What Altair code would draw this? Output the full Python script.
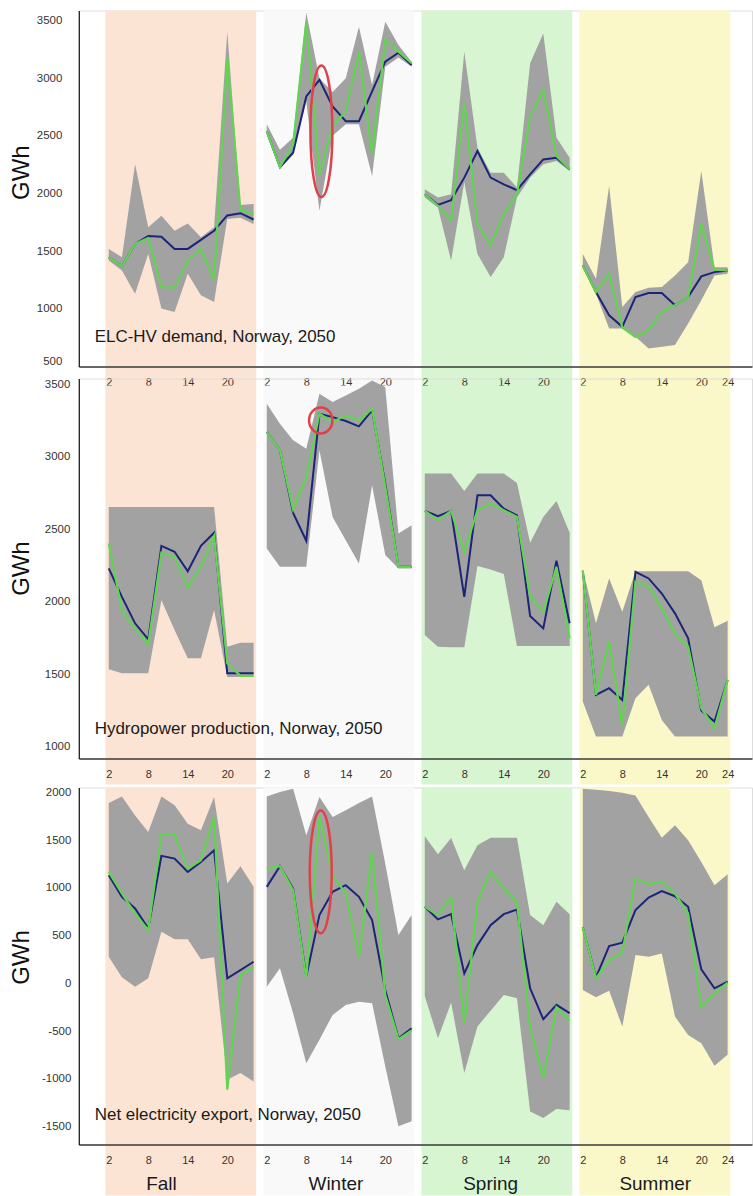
import altair as alt
import pandas as pd

# ---------------------------------------------------------------------------
# Data: hourly values (every 2 h) for four representative seasons.
# Each list holds 48 values: Fall, Winter, Spring, Summer (12 points each).
# ---------------------------------------------------------------------------
SEASONS = ["Fall", "Winter", "Spring", "Summer"]
HOURS = [2, 4, 6, 8, 10, 12, 14, 16, 18, 20, 22, 24]

# ELC-HV demand (GWh)
demand_navy = [1448, 1371, 1563, 1632, 1626, 1520, 1520, 1598, 1678, 1810, 1830, 1775,
               2540, 2230, 2354, 2842, 2986, 2756, 2627, 2627, 2885, 3144, 3221, 3115,
               1994, 1902, 1943, 2138, 2368, 2138, 2080, 2029, 2167, 2296, 2310, 2210,
               1376, 1146, 945, 845, 1103, 1138, 1138, 1031, 1103, 1282, 1319, 1333]
demand_green = [1448, 1371, 1563, 1615, 1190, 1184, 1419, 1520, 1253, 3173, 1856, 1822,
                2540, 2230, 2425, 3489, 2167, 2583, 2713, 3230, 2339, 3331, 3230, 3130,
                1994, 1894, 1764, 2785, 1736, 1549, 1822, 1994, 2670, 2900, 2325, 2210,
                1376, 1146, 1304, 839, 758, 816, 974, 1031, 1103, 1736, 1339, 1333]
demand_low = [1420, 1333, 1132, 1477, 1003, 974, 1305, 1118, 1060, 1780, 1790, 1736,
              2512, 2210, 2339, 2800, 1851, 2500, 2600, 2600, 2152, 3100, 3180, 3100,
              1966, 1879, 1419, 2100, 1477, 1276, 1448, 1966, 2138, 2253, 2282, 2195,
              1362, 1132, 830, 830, 758, 658, 672, 687, 874, 1075, 1290, 1304]
demand_high = [1520, 1448, 2253, 1707, 1807, 1678, 1741, 1621, 1707, 3402, 1900, 1910,
               2600, 2380, 2483, 3570, 3000, 2880, 3000, 3446, 2940, 3489, 3288, 3140,
               2037, 1966, 1994, 3230, 2397, 2181, 2181, 2052, 3130, 3388, 2483, 2310,
               1477, 1261, 2066, 1017, 1146, 1184, 1190, 1290, 1405, 2195, 1362, 1362]

# Hydropower production (GWh)
hydro_navy = [2230, 2034, 1851, 1740, 2386, 2345, 2211, 2386, 2476, 1506, 1506, 1506,
              3172, 3046, 2614, 2421, 3298, 3275, 3248, 3211, 3321, 2816, 2241, 2241,
              2627, 2591, 2627, 2034, 2735, 2735, 2643, 2597, 1901, 1816, 2283, 1851,
              2214, 1357, 1403, 1322, 2207, 2161, 2057, 1920, 1747, 1249, 1173, 1460]
hydro_green = [2402, 1943, 1816, 1708, 2338, 2310, 2099, 2241, 2453, 1575, 1488, 1488,
               3172, 3046, 2637, 2862, 3298, 3241, 3287, 3252, 3333, 2793, 2241, 2241,
               2627, 2563, 2627, 2345, 2632, 2678, 2632, 2586, 2034, 1931, 2241, 1747,
               2214, 1357, 1724, 1143, 2138, 2108, 1954, 1782, 1690, 1265, 1127, 1460]
hydro_low = [1534, 1506, 1506, 1506, 2011, 1805, 1609, 1609, 1943, 1480, 1480, 1480,
             2368, 2241, 2241, 2241, 3046, 2586, 2425, 2264, 2804, 2322, 2230, 2230,
             1770, 1690, 1685, 1685, 2246, 2223, 2191, 1694, 1694, 1694, 1694, 1694,
             1311, 1069, 1069, 1069, 1334, 1426, 1184, 1069, 1069, 1069, 1069, 1069]
hydro_high = [2655, 2655, 2655, 2655, 2655, 2655, 2655, 2655, 2655, 1690, 1717, 1717,
              3367, 3229, 3115, 3057, 3436, 3379, 3425, 3471, 3528, 3482, 2471, 2529,
              2885, 2885, 2885, 2765, 2885, 2885, 2885, 2820, 2407, 2586, 2696, 2476,
              2223, 1851, 2161, 1931, 2210, 2210, 2210, 2210, 2210, 2149, 1823, 1869]

# Net electricity export (GWh)
export_navy = [1132, 905, 783, 575, 1334, 1306, 1166, 1271, 1393, 52, 139, 226,
               1010, 1226, 992, 70, 714, 958, 1027, 905, 662, -70, -575, -470,
               801, 669, 724, 104, 400, 609, 724, 773, -52, -376, -226, -313,
               585, 63, 390, 425, 766, 898, 965, 912, 801, 146, -52, 17]
export_green = [1166, 940, 731, 557, 1560, 1560, 1201, 1288, 1741, -1114, 87, 167,
                1201, 1226, 975, 52, 1741, 1132, 940, 279, 1375, -122, -585, -494,
                801, 714, 898, -418, 853, 1166, 992, 853, -470, -992, -251, -390,
                585, 52, 244, 320, 1097, 1038, 1062, 940, 731, -251, -104, 7]
export_low = [279, 63, -35, 52, 540, 460, 460, 251, 272, -1010, -940, -1027,
              -35, 157, -313, -836, -592, -331, -226, -192, -209, -870, -1497, -1445,
              -132, -575, -202, -940, -453, -286, -122, -157, -1341, -1410, -1316, -1330,
              -70, -146, -77, -453, 296, 279, 313, -348, -540, -627, -864, -749]
export_high = [1887, 1957, 1758, 1584, 1957, 1863, 1671, 1602, 1950, 1045, 1226, 1010,
               1957, 2002, 2037, 1549, 1950, 1741, 1811, 1887, 1957, 1253, 505, 714,
               1539, 1351, 1522, 1184, 1445, 1525, 1525, 1525, 714, 609, 853, 724,
               2037, 2027, 2013, 1995, 1967, 1741, 1525, 1654, 1497, 1271, 1027, 1142]

# Highlighted Winter hours (hour, value) in each panel
highlight_demand = (10.3, 2540)
highlight_hydro = (10.2, 3252)
highlight_export = (10.2, 1167)

# ---------------------------------------------------------------------------
# Styling
# ---------------------------------------------------------------------------
FONT = "Liberation Sans"
BAND_COLORS = ["#fce4d4", "#f9f9f9", "#d6f5d0", "#faf8c9"]
GRAY = "#a2a2a2"
NAVY = "#1c2478"
GREEN = "#62d452"
RED = "#e0404a"
WIDTH = 675
X_DOMAIN = [-2.55, 99.7]
X_TICKS = [2, 8, 14, 20, 26, 32, 38, 44, 50, 56, 62, 68, 74, 80, 86, 92, 96]
LABEL_HOUR = {"Fall": 10, "Winter": 12.5, "Spring": 12, "Summer": 13}


def season_table(navy, green, low, high):
    rows = []
    for i, season in enumerate(SEASONS):
        for j, hour in enumerate(HOURS):
            k = i * len(HOURS) + j
            rows.append({"season": season, "hour": hour, "t": i * 24 + hour,
                         "navy": navy[k], "green": green[k],
                         "low": low[k], "high": high[k]})
    return pd.DataFrame(rows)


bands = pd.DataFrame({
    "season": SEASONS,
    "start": [i * 24 + 1.5 for i in range(4)],
    "end": [i * 24 + 24.4 for i in range(4)],
})
season_labels = pd.DataFrame({
    "season": SEASONS,
    "t": [i * 24 + LABEL_HOUR[s] for i, s in enumerate(SEASONS)],
})

xscale = alt.Scale(domain=X_DOMAIN, nice=False, zero=False)
xaxis = alt.Axis(values=X_TICKS, labelExpr="'' + (((datum.value - 1) % 24) + 1)",
                 title=None, ticks=False, grid=False, domainColor="#3a3a3a",
                 domainWidth=1.5, labelFontSize=11, labelColor="#333",
                 labelPadding=10, labelFlush=False, labelFont=FONT, zindex=1)


def panel(df, ydomain, yvalues, height, caption, highlight, shape, size,
          label_pad, title_y, rect_top, rect_bottom, flush=False, bottom_labels=False):
    yscale = alt.Scale(domain=ydomain, nice=False, zero=False)
    yaxis = alt.Axis(values=yvalues, labelExpr="'' + datum.value", title="GWh",
                     titleFontSize=24, titleFontWeight="normal", titleColor="#111",
                     titleFont=FONT, titleX=-45, titleY=title_y, ticks=False,
                     grid=False, domainColor="#111", domainWidth=1.2,
                     labelFontSize=11.5, labelColor="#333", labelFont=FONT,
                     labelPadding=label_pad, labelFlush=flush, zindex=1)
    X = alt.X("t:Q", scale=xscale, axis=xaxis)

    season_bg = alt.Chart(bands).mark_rect().encode(
        x=alt.X("start:Q", scale=xscale, axis=xaxis), x2="end:Q",
        y=alt.value(rect_top), y2=alt.value(rect_bottom),
        color=alt.Color("season:N", scale=alt.Scale(domain=SEASONS, range=BAND_COLORS),
                        legend=None),
    )
    spread = alt.Chart(df).mark_area(color=GRAY, opacity=1).encode(
        x=X, y=alt.Y("low:Q", scale=yscale, axis=yaxis), y2="high:Q",
        detail="season:N",
    )
    navy_line = alt.Chart(df).mark_line(color=NAVY, strokeWidth=2).encode(
        x=X, y=alt.Y("navy:Q", scale=yscale, axis=yaxis), detail="season:N",
    )
    green_line = alt.Chart(df).mark_line(color=GREEN, strokeWidth=2.2).encode(
        x=X, y=alt.Y("green:Q", scale=yscale, axis=yaxis), detail="season:N",
    )
    cap = alt.Chart(pd.DataFrame({"caption": [caption]})).mark_text(
        align="left", baseline="middle", fontSize=17, font=FONT, color="#1a1a1a",
    ).encode(x=alt.value(16), y=alt.value(height - 30), text="caption:N")
    hl = pd.DataFrame({"t": [24 + highlight[0]], "v": [highlight[1]]})
    ring = alt.Chart(hl).mark_point(
        shape=shape, size=size, filled=False, color=RED, strokeWidth=2.5, opacity=1,
    ).encode(x=X, y=alt.Y("v:Q", scale=yscale, axis=yaxis))

    layers = [season_bg, spread, navy_line, green_line, cap, ring]
    if bottom_labels:
        layers.append(
            alt.Chart(season_labels).mark_text(
                fontSize=19, font=FONT, baseline="middle", color="#1a1a1a",
            ).encode(x=X, y=alt.value(height + 40), text="season:N")
        )
    return alt.layer(*layers).properties(width=WIDTH, height=height)


def ellipse(rx):
    return f"M0,-1 A{rx},1 0 1,1 0,1 A{rx},1 0 1,1 0,-1 Z"


H1, H2, H3 = 357, 381, 358

p1 = panel(season_table(demand_navy, demand_green, demand_low, demand_high),
           [500, 3586], [500, 1000, 1500, 2000, 2500, 3000, 3500], H1,
           "ELC-HV demand, Norway, 2050", highlight_demand, ellipse(0.167), 132 ** 2,
           17, 162, 0, H1 + 20, flush=True)
p2 = panel(season_table(hydro_navy, hydro_green, hydro_low, hydro_high),
           [917, 3541], [1000, 1500, 2000, 2500, 3000, 3500], H2,
           "Hydropower production, Norway, 2050", highlight_hydro, ellipse(0.9), 26 ** 2,
           9, 190, 7, H2 + 26)
p3 = panel(season_table(export_navy, export_green, export_low, export_high),
           [-1688, 2050], [-1500, -1000, -500, 0, 500, 1000, 1500, 2000], H3,
           "Net electricity export, Norway, 2050", highlight_export, ellipse(0.179), 123 ** 2,
           8, 170, 0, H3 + 51, bottom_labels=True)

# The upper two panels are stacked by their plot areas so that the first
# panel's hour labels sit inside the second panel's top margin.
upper = alt.vconcat(p1, p2, spacing=12, bounds="flush")

chart = alt.vconcat(upper, p3, spacing=0).properties(
    padding={"left": 9, "top": 8, "right": 0, "bottom": 0},
    background="white",
).configure_view(stroke=None).configure(font=FONT)

chart.save("out.html", embed_options={"renderer": "svg", "actions": False})
